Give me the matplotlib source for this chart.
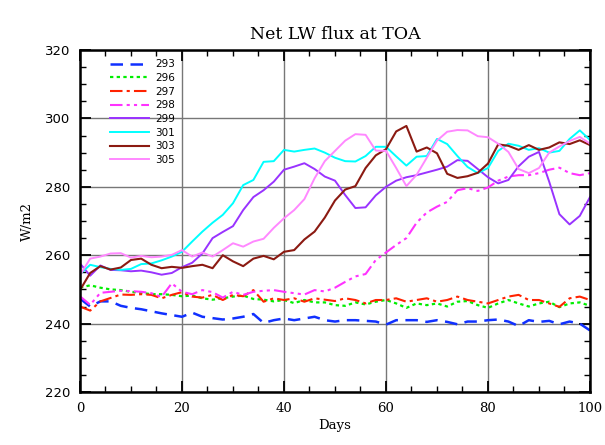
import numpy as np
import matplotlib
matplotlib.use("Agg")
import matplotlib.pyplot as plt
from matplotlib.ticker import MultipleLocator

days = list(range(0, 101, 2))

s293 = [247.3, 245, 246.5, 246.5, 245.2, 244.6, 244.2, 243.6, 243, 242.5, 242, 243.2, 242, 241.6, 241.2,
        241.5, 242, 242.8, 240.2, 241, 241.5, 241, 241.5, 242, 241, 240.6, 241, 241, 240.8, 240.6,
        239.7, 241, 241, 241, 240.5, 241, 240.5, 239.8, 240.6, 240.6, 241, 241.2, 240.6, 239.3, 241,
        240.5, 240.8, 239.8, 240.6, 240, 238]
s296 = [250.5, 251.2, 250.5, 250, 249.8, 249.3, 249, 248.6, 248.6, 248.4, 248, 248.2, 247.4, 247, 247.4,
        247.9, 248.2, 247.2, 247, 246.5, 246.9, 246, 246.9, 246.2, 246.2, 245.4, 245.2, 246.2, 245.6, 246.4,
        246.9, 245.9, 244.6, 245.9, 245.4, 245.9, 245, 246.4, 246.6, 245.4, 244.6, 245.9, 246.9, 245.9, 245,
        245.9, 246.4, 244.8, 245.9, 246.2, 245.2]
s297 = [245, 243.8, 246.5, 247.5, 248.5, 248.4, 248.6, 248.4, 247.4, 248.4, 249.2, 247.9, 247.6, 248.4, 246.9,
        248.4, 248, 249.8, 246.4, 247.4, 246.9, 247.4, 246.4, 247.4, 247, 246.6, 247.4, 246.9, 245.9, 246.9,
        246.9, 247.4, 246.4, 246.9, 247.4, 246.4, 246.9, 247.9, 246.9, 246.4, 245.9, 246.9, 247.9, 248.4, 246.9,
        246.9, 245.9, 244.9, 247.4, 247.9, 246.9]
s298 = [248, 245.5, 249, 249.3, 249.6, 249.5, 249.3, 248.9, 247.8, 251.8, 249.3, 248.6, 249.8, 249.2, 247.6,
        249.3, 248.4, 249.3, 249.6, 249.8, 249.3, 248.9, 248.5, 249.8, 249.4, 250.5, 252.2, 253.8, 254.5, 258.6,
        260.8, 263, 265, 269.5, 272.5, 274.2, 275.6, 279, 279.6, 278.8, 279.8, 281.8, 283, 283.4, 283.4,
        284, 285, 285.6, 284, 283.4, 284]
s299 = [257.6, 254, 257, 255.7, 255.6, 255.3, 255.5, 255, 254.3, 254.8, 256.5, 257.8, 260.5, 265, 266.8,
        268.5, 273.2, 277, 279, 281.5, 285, 285.9, 286.9, 285.2, 283, 281.8, 277.6, 273.8, 274, 277.5,
        280, 281.8, 282.8, 283.4, 284.2, 285, 285.9, 287.8, 287.6, 285.2, 282.8, 281, 282, 286, 288.8,
        290.2, 281.5, 272, 269, 271.5, 277]
s301 = [254.5, 257.2, 256.5, 256, 255.7, 256, 257.4, 257.6, 258.5, 259.6, 261, 264, 266.9, 269.5, 271.8,
        275.2, 280.5, 282, 287.3, 287.5, 290.8, 290.3, 290.8, 291.2, 290, 288.5, 287.5, 287.4, 289, 291.7,
        291.7, 288.9, 286.2, 288.8, 289, 294, 292.5, 289, 285.8, 284, 285.5, 290.5, 292.6, 292, 290.8,
        291.3, 290, 290.5, 294, 296.5, 293.7]
s303 = [249.8, 254.8, 256.8, 255.8, 256.4, 258.6, 259, 257.2, 256.2, 256.6, 256.3, 256.8, 257.2, 256.2, 260,
        258.2, 256.8, 259, 259.8, 258.8, 261, 261.5, 264.6, 266.9, 271, 276, 279.2, 280.2, 285.5, 289.2,
        291, 296.2, 297.8, 290.3, 291.5, 289.8, 283.8, 282.6, 283.1, 284.1, 286.8, 292.4, 292, 290.8, 292.2,
        290.8, 291.5, 293, 292.5, 293.6, 292.2]
s305 = [254.2, 259, 259.6, 260.5, 260.6, 259.3, 259.8, 259.4, 259.6, 260.1, 261.5, 259.6, 260.8, 259.6, 261.5,
        263.5, 262.5, 264, 264.8, 268, 270.8, 273.2, 276.4, 282.5, 287.5, 290.5, 293.5, 295.4, 295.2, 290.6,
        290.5, 285.5, 280.2, 283.5, 288.5, 293.5, 296.1, 296.6, 296.5, 294.8, 294.5, 292.6, 290.2, 285.2, 284,
        285.5, 290, 291.8, 293.4, 294.6, 292.6]

labels = ["293", "296", "297", "298", "299", "301", "303", "305"]
series = [s293, s296, s297, s298, s299, s301, s303, s305]
colors = ["#1030ff", "#00ee00", "#ff2200", "#ff33ff", "#9933ff", "#00ffff", "#8b1a12", "#ff88ff"]
styles = [(0, (5, 3)), (0, (1.5, 1.5)), (0, (6, 2, 1.5, 2)), (0, (6, 2, 1.5, 2, 1.5, 2)),
          "-", "-", "-", "-"]
widths = [1.8, 1.6, 1.5, 1.5, 1.4, 1.4, 1.5, 1.4]

fig = plt.figure(figsize=(6.05, 4.45), dpi=100)
ax = fig.add_axes([0.1322, 0.1191, 0.8430, 0.7685])

for lab, s, c, ls, lw in zip(labels, series, colors, styles, widths):
    ax.plot(days, s, color=c, linestyle=ls, linewidth=lw, label=lab)

ax.set_xlim(0, 100)
ax.set_ylim(220, 320)
ax.xaxis.set_major_locator(MultipleLocator(20))
ax.xaxis.set_minor_locator(MultipleLocator(5))
ax.yaxis.set_major_locator(MultipleLocator(20))
ax.yaxis.set_minor_locator(MultipleLocator(5))
ax.grid(True, which="major", color="#777777", linewidth=1.0)
ax.set_axisbelow(True)
ax.tick_params(which="both", direction="in", top=True, right=True, labelsize=9.5, pad=7)
ax.tick_params(which="major", length=8, width=1.3)
ax.tick_params(which="minor", length=4, width=1.0)
for sp in ax.spines.values():
    sp.set_linewidth(1.8)

fam = "DejaVu Serif"
for t in ax.get_xticklabels():
    t.set_family(fam)
ax.set_title("Net LW flux at TOA", family=fam, fontsize=12.5, pad=8)
ax.set_xlabel("Days", family=fam, fontsize=9.5, labelpad=3)
ax.set_ylabel("W/m2", family=fam, fontsize=9.5, labelpad=8)

leg = ax.legend(loc="upper left", bbox_to_anchor=(0.05, 0.985), frameon=False, fontsize=7.5,
                handlelength=3.8, handletextpad=0.6, labelspacing=0.35, borderaxespad=0)

fig.savefig("out.png", dpi=100)
